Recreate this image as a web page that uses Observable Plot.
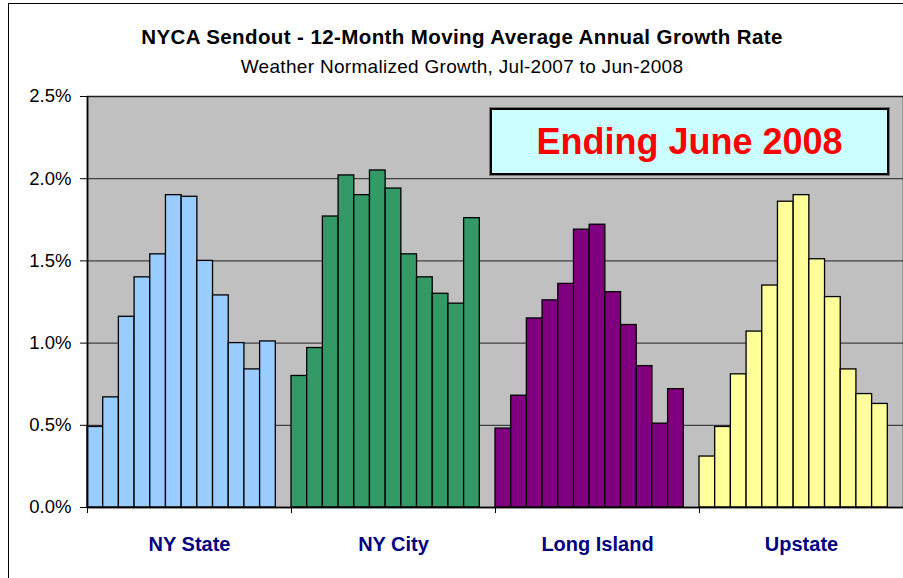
<!DOCTYPE html>
<html>
<head>
<meta charset="utf-8">
<script src="https://cdn.jsdelivr.net/npm/d3@7"></script>
<script src="https://cdn.jsdelivr.net/npm/@observablehq/plot@0.6"></script>
<style>
  html, body { margin: 0; padding: 0; background: #fff; }
  #wrap { position: relative; width: 903px; height: 578px; overflow: hidden; background: #fff;
          font-family: "Liberation Sans", Arial, sans-serif; }
  #border { position: absolute; left: 8px; top: 3px; width: 1000px; height: 700px;
            border-left: 1.5px solid #000; border-top: 1.5px solid #000; pointer-events: none; }
  #head { position: relative; height: 85px; }
  #title { position: absolute; left: 0; width: 924px; top: 26px; text-align: center;
           font-weight: bold; font-size: 20.5px; color: #000; line-height: 22px; letter-spacing: 0.4px; }
  #subtitle { position: absolute; left: 0; width: 924px; top: 56px; text-align: center;
              font-size: 19px; color: #000; line-height: 22px; letter-spacing: 0.3px; }
  #chart svg { display: block; }
  #badge { position: absolute; left: 490px; top: 108px; width: 395px; height: 63px;
           background: #ccffff; border: 2px solid #000; box-shadow: 0 0 0 1px #777;
           text-align: center; line-height: 63px; color: #ff0000; font-weight: bold; font-size: 36px; }
</style>
</head>
<body>
<div id="wrap">
  <div id="head">
    <div id="title">NYCA Sendout - 12-Month Moving Average Annual Growth Rate</div>
    <div id="subtitle">Weather Normalized Growth, Jul-2007 to Jun-2008</div>
  </div>
  <div id="chart"></div>
  <div id="badge">Ending June 2008</div>
  <div id="border"></div>
</div>
<script>
const months = ["Jul-07","Aug-07","Sep-07","Oct-07","Nov-07","Dec-07","Jan-08","Feb-08","Mar-08","Apr-08","May-08","Jun-08"];
const regions = ["NY State", "NY City", "Long Island", "Upstate"];
const colors = ["#99ccff", "#339966", "#800080", "#ffff99"];
const nyState    = [0.49, 0.67, 1.16, 1.40, 1.54, 1.90, 1.89, 1.50, 1.29, 1.00, 0.84, 1.01];
const nyCity     = [0.80, 0.97, 1.77, 2.02, 1.90, 2.05, 1.94, 1.54, 1.40, 1.30, 1.24, 1.76];
const longIsland = [0.48, 0.68, 1.15, 1.26, 1.36, 1.69, 1.72, 1.31, 1.11, 0.86, 0.51, 0.72];
const upstate    = [0.31, 0.49, 0.81, 1.07, 1.35, 1.86, 1.90, 1.51, 1.28, 0.84, 0.69, 0.63];
const yTicks = [0, 0.5, 1.0, 1.5, 2.0, 2.5];

const series = [nyState, nyCity, longIsland, upstate];
const slots = months.length + 1; // 12 months plus one empty slot per group
const rows = [];
series.forEach((vals, r) => vals.forEach((v, m) => rows.push({
  region: regions[r], month: months[m], value: v, s: r * slots + m
})));

const groupStarts = regions.map((_, r) => r * slots);
const labelPos = regions.map((name, r) => ({name, pos: r * slots + slots / 2}));

const chart = Plot.plot({
  width: 903,
  height: 493,
  marginLeft: 87,
  marginRight: 0,
  marginTop: 11,
  marginBottom: 71,
  style: {fontFamily: "'Liberation Sans', Arial, sans-serif", fontSize: "18.5px", color: "#000", background: "transparent"},
  x: {domain: [0, regions.length * slots], label: null},
  y: {domain: [0, 2.5], label: null},
  color: {domain: regions, range: colors},
  marks: [
    Plot.frame({fill: "#c0c0c0"}),
    Plot.gridY([0.5, 1.0, 1.5, 2.0], {stroke: "#111", strokeOpacity: 0.9, strokeWidth: 1}),
    Plot.rectY(rows, {x1: "s", x2: d => d.s + 1, y: "value", fill: "region", stroke: "#000", strokeWidth: 1.3}),
    Plot.frame({stroke: "#222", strokeWidth: 1.5}),
    Plot.ruleY([0], {stroke: "#000", strokeWidth: 1.5}),
    Plot.ruleX([0], {stroke: "#000", strokeWidth: 1.5}),
    Plot.axisY({ticks: yTicks, tickFormat: d => d.toFixed(1) + "%", tickSize: 7, tickPadding: 9}),
    Plot.axisX({ticks: groupStarts, tickFormat: () => "", tickSize: 6}),
    Plot.text(labelPos, {x: "pos", frameAnchor: "bottom", dy: 43, text: "name",
      fontSize: 20, fontWeight: "bold", fill: "#000080"})
  ]
});
document.getElementById("chart").appendChild(chart);
</script>
</body>
</html>
